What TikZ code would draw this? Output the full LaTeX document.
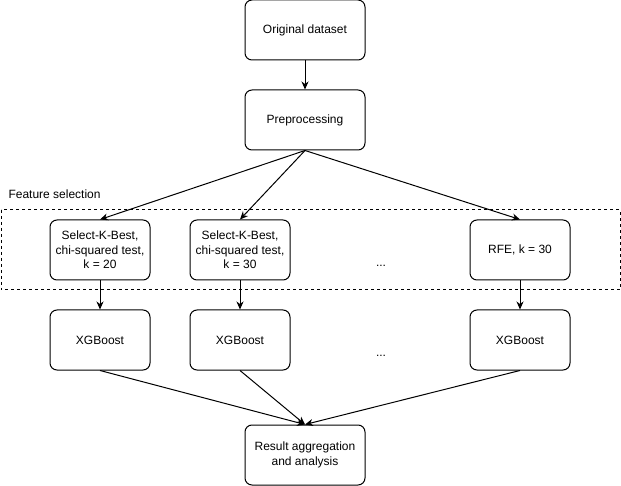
\documentclass[tikz,border=0pt]{standalone}
\usepackage{fontspec}
\setmainfont{Liberation Sans}
\usetikzlibrary{arrows.meta}

\tikzset{
    kasten/.style={draw, rounded corners=7pt, line width=1pt, minimum width=100pt, minimum height=60pt, align=center, inner sep=2pt},
    breit/.style={kasten, minimum width=120pt},
    pfeil/.style={-{Stealth[length=8pt, width=7pt, inset=2.5pt]}, line width=1pt},
    rahmen/.style={draw, line width=1pt, dash pattern=on 3pt off 3pt}
}

\begin{document}
\begin{tikzpicture}[x=1pt, y=-1pt, font=\fontsize{12}{14.5}\selectfont]
    \useasboundingbox (0,0) rectangle (621,486);
    \draw[rahmen] (1,210) rectangle (620,290);
    \path node[anchor=west] (FS) at (5,194) {Feature selection}
        node[breit] (OD) at (305,30) {Original dataset}
        node[breit] (PP) at (305,120) {Preprocessing}
        node[kasten] (S20) at (100,250) {Select-K-Best,\\chi-squared test,\\k = 20}
        node[kasten] (S30) at (240,250) {Select-K-Best,\\chi-squared test,\\k = 30}
        node[kasten] (RFE) at (520,250) {RFE, k = 30}
        node (D1) at (381,266) {...}
        node[kasten] (X1) at (100,340) {XGBoost}
        node[kasten] (X2) at (240,340) {XGBoost}
        node[kasten] (X3) at (520,340) {XGBoost}
        node (D2) at (381,356) {...}
        node[breit] (RA) at (305,455) {Result aggregation\\and analysis};
    \draw[pfeil] (OD) -- (PP);
    \draw[pfeil] (PP.south) -- (S20.north);
    \draw[pfeil] (PP.south) -- (S30.north);
    \draw[pfeil] (PP.south) -- (RFE.north);
    \draw[pfeil] (S20) -- (X1);
    \draw[pfeil] (S30) -- (X2);
    \draw[pfeil] (RFE) -- (X3);
    \draw[pfeil] (X1.south) -- (RA.north);
    \draw[pfeil] (X2.south) -- (RA.north);
    \draw[pfeil] (X3.south) -- (RA.north);
\end{tikzpicture}
\end{document}
